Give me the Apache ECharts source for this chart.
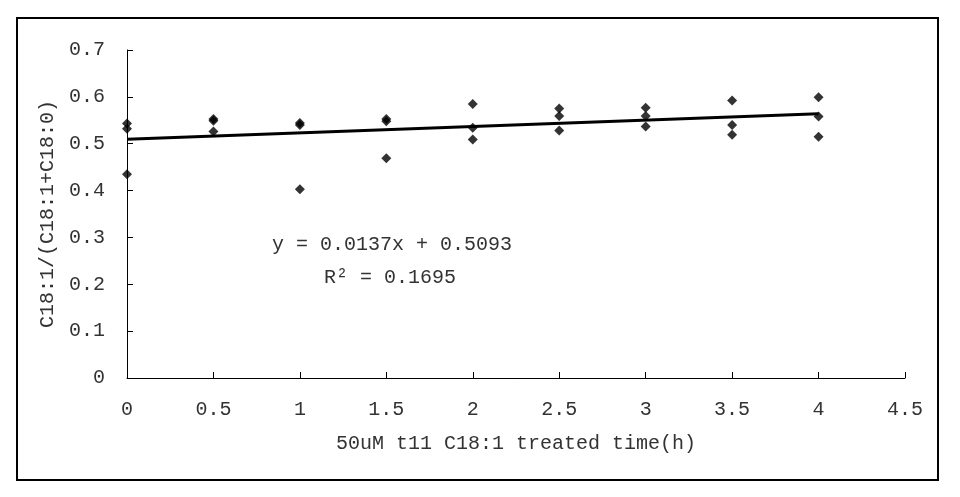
<!DOCTYPE html>
<html>
<head>
<meta charset="utf-8">
<script src="https://cdn.jsdelivr.net/npm/echarts@6/dist/echarts.min.js"></script>
<style>html,body{margin:0;padding:0;background:#fff;}#c{width:960px;height:497px;}</style>
</head>
<body>
<div id="c"></div>
<script>
// Data
const timePoints = [0, 0, 0, 0.5, 0.5, 0.5, 1, 1, 1, 1.5, 1.5, 1.5, 2, 2, 2, 2.5, 2.5, 2.5, 3, 3, 3, 3.5, 3.5, 3.5, 4, 4, 4];
const ratios = [0.543, 0.532, 0.435, 0.553, 0.549, 0.526, 0.544, 0.540, 0.403, 0.553, 0.548, 0.469, 0.585, 0.534, 0.509, 0.575, 0.559, 0.528, 0.577, 0.559, 0.537, 0.592, 0.540, 0.519, 0.599, 0.558, 0.515];
const trendSlope = 0.0137;
const trendIntercept = 0.5093;
const trendRange = [0, 4];
const equationText = "y = 0.0137x + 0.5093";
const r2Text = "R² = 0.1695";
const xAxisName = "50uM t11 C18:1 treated time(h)";
const yAxisName = "C18:1/(C18:1+C18:0)";

const FONT = "Liberation Mono";
const TXT = "#333";

const points = timePoints.map((t, i) => [t, ratios[i]]);
const trend = trendRange.map(x => [x, trendSlope * x + trendIntercept]);

const chart = echarts.init(document.getElementById('c'), null, {renderer: 'canvas'});
chart.setOption({
  animation: false,
  backgroundColor: '#fff',
  grid: {left: 127, top: 50, right: 55, bottom: 119},
  xAxis: {
    type: 'value', min: 0, max: 4.5, interval: 0.5,
    name: xAxisName, nameLocation: 'middle', nameGap: 56,
    nameTextStyle: {fontFamily: FONT, fontSize: 20, color: TXT},
    axisLine: {onZero: false, lineStyle: {color: '#000', width: 1}},
    axisTick: {inside: true, length: 6, lineStyle: {color: '#000'}},
    axisLabel: {fontFamily: FONT, fontSize: 20, color: TXT, margin: 22},
    splitLine: {show: false}
  },
  yAxis: {
    type: 'value', min: 0, max: 0.7, interval: 0.1,
    name: yAxisName, nameLocation: 'middle', nameGap: 68,
    nameTextStyle: {fontFamily: FONT, fontSize: 20, color: TXT},
    axisLine: {show: true, lineStyle: {color: '#000', width: 1}},
    axisTick: {show: true, inside: true, length: 6, lineStyle: {color: '#000'}},
    axisLabel: {fontFamily: FONT, fontSize: 20, color: TXT, margin: 22},
    splitLine: {show: false}
  },
  series: [
    {
      type: 'line', data: trend, symbol: 'none',
      lineStyle: {color: '#000', width: 3}, z: 2
    },
    {
      type: 'scatter', data: points, symbol: 'diamond', symbolSize: 10,
      itemStyle: {color: '#000'}, z: 3
    }
  ],
  graphic: [
    {type: 'rect', shape: {x: 17, y: 18, width: 921, height: 462},
     style: {fill: 'none', stroke: '#000', lineWidth: 2}, silent: true},
    {type: 'text', x: 392, y: 245,
     style: {text: equationText, font: '20px "Liberation Mono"', fill: TXT, align: 'center', verticalAlign: 'middle'}},
    {type: 'text', x: 390, y: 278,
     style: {text: r2Text, font: '20px "Liberation Mono"', fill: TXT, align: 'center', verticalAlign: 'middle'}}
  ]
});
</script>
</body>
</html>
